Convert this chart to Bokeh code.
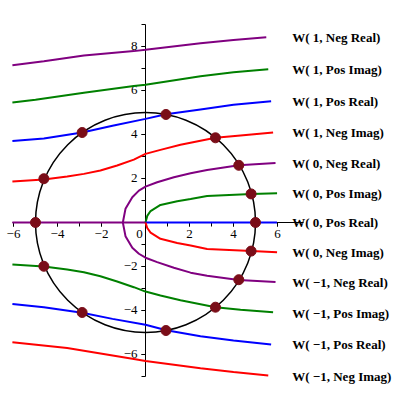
from bokeh.plotting import figure
from bokeh.models import FixedTicker, Label
from bokeh.core.properties import value
from bokeh.embed import file_html
from bokeh.resources import INLINE

# ---- data ----
# W(1, Neg Real) - purple (top)
w1_negreal_x = [-6.05, -4.62, -2.8, -0.53, 0.0, 2.5, 4.0, 5.49]
w1_negreal_y = [7.15, 7.33, 7.59, 7.79, 7.85, 8.15, 8.30, 8.42]
# W(1, Pos Imag) - green (top)
w1_posimag_x = [-6.05, -5.0, -2.8, -0.53, 0.0, 2.5, 4.0, 5.58]
w1_posimag_y = [5.45, 5.58, 5.90, 6.20, 6.26, 6.65, 6.83, 6.97]
# W(1, Pos Real) - blue (top)
w1_posreal_x = [-6.05, -4.62, -2.88, -1.5, 0.0, 0.93, 2.5, 4.0, 5.71]
w1_posreal_y = [3.70, 3.82, 4.09, 4.40, 4.71, 4.92, 5.14, 5.35, 5.51]
# W(1, Neg Imag) - red (top)
w1_negimag_x = [-6.05, -4.62, -3.56, -2.8, -2.05, -1.29, -0.53, 0.0, 0.68, 1.59, 3.18, 4.32, 5.8]
w1_negimag_y = [1.86, 1.95, 2.09, 2.21, 2.36, 2.59, 2.86, 3.12, 3.30, 3.53, 3.85, 3.96, 4.09]
# W(0, Neg Real) - purple (real segment + upper half of C)
w0_negreal_x = [0.0, -1.03, -0.91, -0.6, -0.3, 0.0, 0.53, 1.29, 2.05, 2.8, 4.24, 5.91]
w0_negreal_y = [0.0, 0.0, 0.62, 1.15, 1.45, 1.63, 1.83, 2.06, 2.24, 2.39, 2.60, 2.70]
# W(0, Pos Imag) - green (small)
w0_posimag_x = [0.0, 0.08, 0.23, 0.68, 1.44, 2.05, 2.8, 4.82, 5.98]
w0_posimag_y = [0.0, 0.30, 0.52, 0.80, 0.97, 1.07, 1.20, 1.30, 1.33]
# W(0, Pos Real) - blue (on the real axis)
w0_posreal_x = [0.0, 5.98]
w0_posreal_y = [0.0, 0.0]
# W(0, Neg Imag) - red (small)
w0_negimag_x = [0.0, 0.08, 0.23, 0.68, 1.44, 2.05, 2.8, 4.82, 5.98]
w0_negimag_y = [0.0, -0.25, -0.46, -0.74, -0.93, -1.05, -1.20, -1.30, -1.35]
# W(-1, Neg Real) - purple (real axis + lower half of C)
wm1_negreal_x = [-6.05, -1.03, -0.91, -0.6, -0.3, 0.0, 0.53, 1.29, 2.05, 2.8, 4.24, 5.91]
wm1_negreal_y = [0.0, 0.0, -0.62, -1.15, -1.42, -1.60, -1.80, -2.06, -2.28, -2.42, -2.61, -2.71]
# W(-1, Pos Imag) - green (lower)
wm1_posimag_x = [-6.05, -4.62, -3.56, -2.8, -2.05, -1.29, -0.53, 0.0, 0.68, 1.59, 3.18, 4.32, 5.8]
wm1_posimag_y = [-1.91, -2.0, -2.14, -2.26, -2.44, -2.68, -2.94, -3.14, -3.32, -3.53, -3.85, -3.97, -4.08]
# W(-1, Pos Real) - blue (lower)
wm1_posreal_x = [-6.05, -4.62, -2.88, -1.5, 0.0, 0.95, 2.5, 4.0, 5.71]
wm1_posreal_y = [-3.70, -3.85, -4.10, -4.38, -4.65, -4.90, -5.17, -5.36, -5.55]
# W(-1, Neg Imag) - red (bottom)
wm1_negimag_x = [-6.05, -3.56, -0.53, 0.0, 2.5, 4.0, 5.58]
wm1_negimag_y = [-5.44, -5.70, -6.20, -6.30, -6.62, -6.80, -6.95]

circle_radius = 5
dot_x = [0.93, 3.18, 4.24, 4.80, 5.0, 4.80, 4.24, 3.18, 0.93, -2.88, -4.62, -5.0, -4.62, -2.88]
dot_y = [4.91, 3.85, 2.60, 1.30, 0.0, -1.30, -2.60, -3.85, -4.91, 4.09, 1.99, 0.0, -1.99, -4.09]

label_texts = ["W( 1, Neg Real)", "W( 1, Pos Imag)", "W( 1, Pos Real)", "W( 1, Neg Imag)",
               "W( 0, Neg Real)", "W( 0, Pos Imag)", "W( 0, Pos Real)", "W( 0, Neg Imag)",
               "W( \u22121, Neg Real)", "W( \u22121, Pos Imag)", "W( \u22121, Pos Real)", "W( \u22121, Neg Imag)"]
label_y = [8.42, 6.94, 5.51, 4.10, 2.67, 1.30, 0.0, -1.35, -2.71, -4.12, -5.56, -6.99]
label_x = 6.67

x_ticks = [-6, -4, -2, 0, 2, 4, 6]
x_minor = [-6, -5, -4, -3, -2, -1, 0, 1, 2, 3, 4, 5, 6]
y_ticks = [-6, -4, -2, 2, 4, 6, 8]
y_minor = [-7, -6, -5, -4, -3, -2, -1, 0, 1, 2, 3, 4, 5, 6, 7, 8, 9]

PURPLE, GREEN, BLUE, RED = "#800080", "#008000", "#0000FF", "#FF0000"

p = figure(width=392, height=392, output_backend="svg", toolbar_location=None,
           x_range=(-6.5909, 11.2273), y_range=(-7.7273, 10.0909),
           min_border=0, outline_line_color=None)
p.grid.visible = False

for ax in (p.xaxis[0], p.yaxis[0]):
    ax.fixed_location = 0
    ax.axis_line_color = "black"
    ax.axis_line_width = 1
    ax.major_tick_in = 0
    ax.major_tick_out = 4
    ax.minor_tick_in = 0
    ax.minor_tick_out = 4
    ax.major_label_text_font = "Liberation Serif"
    ax.major_label_text_font_size = "13px"
    ax.major_label_text_color = "black"
    ax.major_label_standoff = 4

p.xaxis[0].ticker = FixedTicker(ticks=x_ticks, minor_ticks=x_minor)
p.yaxis[0].ticker = FixedTicker(ticks=y_ticks, minor_ticks=y_minor)
p.xaxis[0].bounds = (-6.05, 7.2)
p.yaxis[0].bounds = (-7, 9)
p.xaxis[0].major_label_overrides = {0: ""}

p.add_layout(Label(x=0, y=0, text="0", x_offset=-6, y_offset=-8,
                   text_align="center", text_baseline="top",
                   text_font="Liberation Serif", text_font_size="13px", text_color="black"))

series = [
    (w1_negreal_x, w1_negreal_y, PURPLE),
    (w1_posimag_x, w1_posimag_y, GREEN),
    (w1_posreal_x, w1_posreal_y, BLUE),
    (w1_negimag_x, w1_negimag_y, RED),
    (w0_negreal_x, w0_negreal_y, PURPLE),
    (w0_posimag_x, w0_posimag_y, GREEN),
    (w0_posreal_x, w0_posreal_y, BLUE),
    (w0_negimag_x, w0_negimag_y, RED),
    (wm1_negreal_x, wm1_negreal_y, PURPLE),
    (wm1_posimag_x, wm1_posimag_y, GREEN),
    (wm1_posreal_x, wm1_posreal_y, BLUE),
    (wm1_negimag_x, wm1_negimag_y, RED),
]
for xs, ys, c in series:
    p.line(xs, ys, line_color=c, line_width=2, level="overlay")

p.circle(x=[0], y=[0], radius=circle_radius, fill_color=None, line_color="black",
         line_width=1.5, level="overlay")
p.scatter(dot_x, dot_y, size=10, fill_color="#7a0d18", line_color="#7a0d18", level="overlay")

p.text(x=[label_x] * len(label_texts), y=label_y, text=label_texts,
       text_font=value("Liberation Serif"), text_font_style="bold",
       text_font_size="13px", text_align="left", text_baseline="middle",
       text_color="black", level="overlay")

open("out.html", "w").write(file_html(p, INLINE))
